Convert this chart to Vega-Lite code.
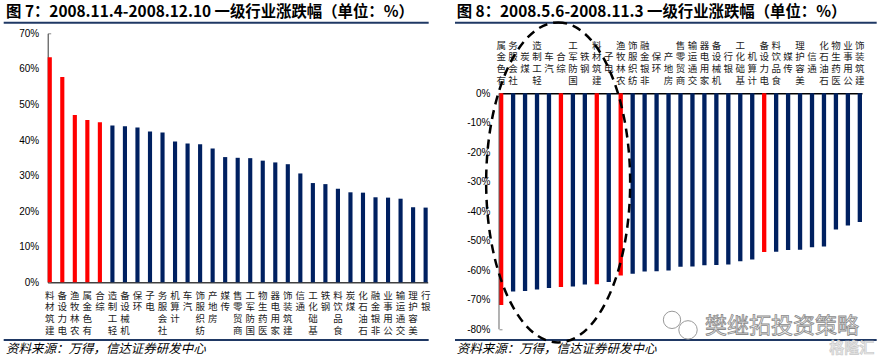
{
  "$schema": "https://vega.github.io/schema/vega-lite/v6.json",
  "background": "white",
  "padding": {"left": 1.7, "top": 4.3, "right": 0, "bottom": 0},
  "spacing": 23.3,
  "config": {"view": {"stroke": null}, "axis": {"grid": false}, "font": "Noto Sans CJK SC"},
  "datasets": {
    "left": [
      {"industry": "建筑材料", "change": 63.3, "group": "top5"},
      {"industry": "电力设备", "change": 57.7, "group": "top5"},
      {"industry": "农林牧渔", "change": 47.0, "group": "top5"},
      {"industry": "有色金属", "change": 45.6, "group": "top5"},
      {"industry": "综合", "change": 45.0, "group": "top5"},
      {"industry": "轻工制造", "change": 44.1, "group": "other"},
      {"industry": "机械设备", "change": 43.9, "group": "other"},
      {"industry": "环保", "change": 43.5, "group": "other"},
      {"industry": "电子", "change": 42.4, "group": "other"},
      {"industry": "社会服务", "change": 42.1, "group": "other"},
      {"industry": "计算机", "change": 39.6, "group": "other"},
      {"industry": "汽车", "change": 39.0, "group": "other"},
      {"industry": "纺织服饰", "change": 38.8, "group": "other"},
      {"industry": "房地产", "change": 37.6, "group": "other"},
      {"industry": "传媒", "change": 35.2, "group": "other"},
      {"industry": "商贸零售", "change": 35.0, "group": "other"},
      {"industry": "国防军工", "change": 34.9, "group": "other"},
      {"industry": "医药生物", "change": 34.2, "group": "other"},
      {"industry": "家用电器", "change": 33.7, "group": "other"},
      {"industry": "建筑装饰", "change": 33.2, "group": "other"},
      {"industry": "通信", "change": 30.6, "group": "other"},
      {"industry": "基础化工", "change": 27.9, "group": "other"},
      {"industry": "钢铁", "change": 27.6, "group": "other"},
      {"industry": "食品饮料", "change": 26.3, "group": "other"},
      {"industry": "煤炭", "change": 25.3, "group": "other"},
      {"industry": "石油石化", "change": 25.2, "group": "other"},
      {"industry": "非银金融", "change": 23.9, "group": "other"},
      {"industry": "公用事业", "change": 23.8, "group": "other"},
      {"industry": "交通运输", "change": 23.5, "group": "other"},
      {"industry": "美容护理", "change": 21.1, "group": "other"},
      {"industry": "银行", "change": 21.0, "group": "other"}
    ],
    "right": [
      {"industry": "有色金属", "change": -71.8, "group": "top5"},
      {"industry": "社会服务", "change": -67.2, "group": "other"},
      {"industry": "煤炭", "change": -67.0, "group": "other"},
      {"industry": "轻工制造", "change": -66.5, "group": "other"},
      {"industry": "汽车", "change": -66.0, "group": "other"},
      {"industry": "综合", "change": -65.7, "group": "top5"},
      {"industry": "国防军工", "change": -65.5, "group": "other"},
      {"industry": "钢铁", "change": -64.8, "group": "other"},
      {"industry": "建筑材料", "change": -64.7, "group": "top5"},
      {"industry": "电子", "change": -64.0, "group": "other"},
      {"industry": "农林牧渔", "change": -61.8, "group": "top5"},
      {"industry": "纺织服饰", "change": -61.2, "group": "other"},
      {"industry": "非银金融", "change": -60.4, "group": "other"},
      {"industry": "环保", "change": -60.3, "group": "other"},
      {"industry": "房地产", "change": -60.1, "group": "other"},
      {"industry": "商贸零售", "change": -58.8, "group": "other"},
      {"industry": "交通运输", "change": -58.7, "group": "other"},
      {"industry": "家用电器", "change": -58.3, "group": "other"},
      {"industry": "机械设备", "change": -58.2, "group": "other"},
      {"industry": "银行", "change": -58.0, "group": "other"},
      {"industry": "基础化工", "change": -56.9, "group": "other"},
      {"industry": "计算机", "change": -56.3, "group": "other"},
      {"industry": "电力设备", "change": -53.8, "group": "top5"},
      {"industry": "食品饮料", "change": -53.7, "group": "other"},
      {"industry": "传媒", "change": -53.1, "group": "other"},
      {"industry": "美容护理", "change": -53.0, "group": "other"},
      {"industry": "通信", "change": -52.2, "group": "other"},
      {"industry": "石油石化", "change": -51.9, "group": "other"},
      {"industry": "医药生物", "change": -46.2, "group": "other"},
      {"industry": "公用事业", "change": -44.8, "group": "other"},
      {"industry": "建筑装饰", "change": -43.6, "group": "other"}
    ]
  },
  "hconcat": [
    {
      "width": 380,
      "height": 249,
      "resolve": {"scale": {"x": "independent", "y": "independent"}},
      "layer": [
        {
          "data": {"name": "left"},
          "mark": {"type": "bar"},
          "encoding": {
            "x": {"field": "industry", "type": "nominal", "sort": null,
              "scale": {"paddingInner": 0.67, "paddingOuter": 0},
              "axis": {"title": null, "orient": "bottom", "labelAngle": 0, "labelAlign": "center", "labelBaseline": "top",
                "labelExpr": "reverse(split(datum.label, ''))", "labelFont": "Noto Sans CJK SC", "labelFontSize": 9.5,
                "labelLineHeight": 11.6, "labelPadding": 8, "labelColor": "#222", "ticks": false, "labelOverlap": false,
                "labelFlush": false, "labelBound": false, "domainColor": "#404040", "domainWidth": 1.5}},
            "y": {"field": "change", "type": "quantitative",
              "scale": {"domain": [0, 70], "nice": false},
              "axis": {"title": null, "values": [0, 10, 20, 30, 40, 50, 60, 70], "labelExpr": "datum.value + '%'",
                "labelFont": "Liberation Sans", "labelFontSize": 10, "labelColor": "#000", "labelPadding": 12,
                "labelOverlap": false, "labelFlush": false, "labelBound": false,
                "tickSize": -3, "tickColor": "#888", "domainColor": "#333", "domainWidth": 1}},
            "color": {"field": "group", "type": "nominal",
              "scale": {"domain": ["top5", "other"], "range": ["#FF0000", "#002060"]}, "legend": null}
          }
        },
        {
          "data": {"values": [{}]},
          "mark": {"type": "text", "text": "图 7：2008.11.4-2008.12.10 一级行业涨跌幅（单位：%）", "align": "left", "baseline": "middle",
            "font": "Noto Sans CJK SC", "fontWeight": "bold", "fontSize": 15.4, "color": "#000"},
          "encoding": {
            "x": {"datum": -0.1097, "type": "quantitative", "scale": {"domain": [0, 1], "nice": false, "zero": false}, "axis": null},
            "y": {"datum": 75.99, "type": "quantitative", "scale": {"domain": [0, 70], "nice": false, "zero": false}, "axis": null}
          }
        },
        {
          "data": {"values": [{}]},
          "mark": {"type": "rule", "color": "#1F3864", "strokeWidth": 2},
          "encoding": {
            "x": {"datum": -0.1158, "type": "quantitative", "scale": {"domain": [0, 1], "nice": false, "zero": false}, "axis": null},
            "x2": {"datum": 1.0026},
            "y": {"datum": 72.98, "type": "quantitative", "scale": {"domain": [0, 70], "nice": false, "zero": false}, "axis": null}
          }
        },
        {
          "data": {"values": [{}]},
          "mark": {"type": "rule", "color": "#1F3864", "strokeWidth": 2},
          "encoding": {
            "x": {"datum": -0.1158, "type": "quantitative", "scale": {"domain": [0, 1], "nice": false, "zero": false}, "axis": null},
            "x2": {"datum": 1.0026},
            "y": {"datum": -16.2, "type": "quantitative", "scale": {"domain": [0, 70], "nice": false, "zero": false}, "axis": null}
          }
        },
        {
          "data": {"values": [{}]},
          "mark": {"type": "text", "text": "资料来源：万得，信达证券研发中心", "align": "left", "baseline": "middle",
            "font": "Noto Sans CJK SC", "fontStyle": "italic", "fontSize": 12.5, "color": "#000"},
          "encoding": {
            "x": {"datum": -0.1097, "type": "quantitative", "scale": {"domain": [0, 1], "nice": false, "zero": false}, "axis": null},
            "y": {"datum": -18.75, "type": "quantitative", "scale": {"domain": [0, 70], "nice": false, "zero": false}, "axis": null}
          }
        }
      ]
    },
    {
      "width": 363,
      "height": 296,
      "resolve": {"scale": {"x": "independent", "y": "independent"}},
      "layer": [
        {
          "data": {"name": "right"},
          "mark": {"type": "bar"},
          "encoding": {
            "x": {"field": "industry", "type": "nominal", "sort": null,
              "scale": {"paddingInner": 0.64, "paddingOuter": 0},
              "axis": {"title": null, "orient": "top", "offset": -60, "labelAngle": 0, "labelAlign": "center", "labelBaseline": "top",
                "labelExpr": "reverse(split(pad(datum.label, 4), ''))", "labelFont": "Noto Sans CJK SC", "labelFontSize": 9.5,
                "labelLineHeight": 11.7, "labelPadding": 53, "labelColor": "#222", "ticks": false, "labelOverlap": false,
                "labelFlush": false, "labelBound": false, "domainColor": "#000", "domainWidth": 1.5}},
            "y": {"field": "change", "type": "quantitative",
              "scale": {"domain": [-80, 20.34], "nice": false},
              "axis": {"title": null, "values": [-80, -70, -60, -50, -40, -30, -20, -10, 0], "labelExpr": "datum.value + '%'",
                "labelFont": "Liberation Sans", "labelFontSize": 10, "labelColor": "#000", "labelPadding": 12,
                "labelOverlap": false, "labelFlush": false, "labelBound": false,
                "tickSize": -3, "tickColor": "#888", "domain": false}},
            "color": {"field": "group", "type": "nominal",
              "scale": {"domain": ["top5", "other"], "range": ["#FF0000", "#002060"]}, "legend": null}
          }
        },
        {
          "data": {"values": [{}]},
          "mark": {"type": "rule", "color": "#666", "strokeWidth": 1},
          "encoding": {
            "x": {"datum": 0, "type": "quantitative", "scale": {"domain": [0, 1], "nice": false, "zero": false}, "axis": null},
            "y": {"datum": -80, "type": "quantitative", "scale": {"domain": [-80, 20.34], "nice": false, "zero": false}, "axis": null},
            "y2": {"datum": 0}
          }
        },
        {
          "data": {"values": [{}]},
          "mark": {"type": "text", "text": "图 8：2008.5.6-2008.11.3 一级行业涨跌幅（单位：%）", "align": "left", "baseline": "middle",
            "font": "Noto Sans CJK SC", "fontWeight": "bold", "fontSize": 15.4, "color": "#000"},
          "encoding": {
            "x": {"datum": -0.1165, "type": "quantitative", "scale": {"domain": [0, 1], "nice": false, "zero": false}, "axis": null},
            "y": {"datum": 27.56, "type": "quantitative", "scale": {"domain": [-80, 20.34], "nice": false, "zero": false}, "axis": null}
          }
        },
        {
          "data": {"values": [{}]},
          "mark": {"type": "rule", "color": "#1F3864", "strokeWidth": 2},
          "encoding": {
            "x": {"datum": -0.1212, "type": "quantitative", "scale": {"domain": [0, 1], "nice": false, "zero": false}, "axis": null},
            "x2": {"datum": 1.0405},
            "y": {"datum": 23.9, "type": "quantitative", "scale": {"domain": [-80, 20.34], "nice": false, "zero": false}, "axis": null}
          }
        },
        {
          "data": {"values": [{}]},
          "mark": {"type": "rule", "color": "#1F3864", "strokeWidth": 2},
          "encoding": {
            "x": {"datum": -0.1212, "type": "quantitative", "scale": {"domain": [0, 1], "nice": false, "zero": false}, "axis": null},
            "x2": {"datum": 1.0405},
            "y": {"datum": -83.6, "type": "quantitative", "scale": {"domain": [-80, 20.34], "nice": false, "zero": false}, "axis": null}
          }
        },
        {
          "data": {"values": [{}]},
          "mark": {"type": "text", "text": "资料来源：万得，信达证券研发中心", "align": "left", "baseline": "middle",
            "font": "Noto Sans CJK SC", "fontStyle": "italic", "fontSize": 12.5, "color": "#000"},
          "encoding": {
            "x": {"datum": -0.1165, "type": "quantitative", "scale": {"domain": [0, 1], "nice": false, "zero": false}, "axis": null},
            "y": {"datum": -86.7, "type": "quantitative", "scale": {"domain": [-80, 20.34], "nice": false, "zero": false}, "axis": null}
          }
        },
        {
          "data": {"values": [{}]},
          "mark": {"type": "point", "shape": "M0,-1A0.45,1 0 1,1 0,1A0.45,1 0 1,1 0,-1Z", "size": 102400, "filled": false,
            "color": "#000", "strokeWidth": 2.5, "strokeDash": [9, 6], "opacity": 1},
          "encoding": {
            "x": {"datum": 0.163, "type": "quantitative", "scale": {"domain": [0, 1], "nice": false, "zero": false}, "axis": null},
            "y": {"datum": -30.2, "type": "quantitative", "scale": {"domain": [-80, 20.34], "nice": false, "zero": false}, "axis": null}
          }
        },
        {
          "data": {"values": [{}]},
          "mark": {"type": "text", "text": "樊继拓投资策略", "align": "left", "baseline": "middle",
            "font": "Noto Sans CJK SC", "fontSize": 22, "fill": "#f4f4f4", "stroke": "#8a8a8a", "strokeWidth": 0.8},
          "encoding": {
            "x": {"datum": 0.5675, "type": "quantitative", "scale": {"domain": [0, 1], "nice": false, "zero": false}, "axis": null},
            "y": {"datum": -78.9, "type": "quantitative", "scale": {"domain": [-80, 20.34], "nice": false, "zero": false}, "axis": null}
          }
        },
        {
          "data": {"values": [{}]},
          "mark": {"type": "point", "shape": "circle", "size": 300, "filled": false, "color": "#999", "strokeWidth": 1, "opacity": 1},
          "encoding": {
            "x": {"datum": 0.4766, "type": "quantitative", "scale": {"domain": [0, 1], "nice": false, "zero": false}, "axis": null},
            "y": {"datum": -76.8, "type": "quantitative", "scale": {"domain": [-80, 20.34], "nice": false, "zero": false}, "axis": null}
          }
        },
        {
          "data": {"values": [{}]},
          "mark": {"type": "point", "shape": "circle", "size": 340, "filled": true, "fill": "white", "stroke": "#999", "strokeWidth": 1, "opacity": 1},
          "encoding": {
            "x": {"datum": 0.5207, "type": "quantitative", "scale": {"domain": [0, 1], "nice": false, "zero": false}, "axis": null},
            "y": {"datum": -80.2, "type": "quantitative", "scale": {"domain": [-80, 20.34], "nice": false, "zero": false}, "axis": null}
          }
        },
        {
          "data": {"values": [{}]},
          "mark": {"type": "text", "text": "格隆汇", "align": "left", "baseline": "middle",
            "font": "Noto Sans CJK SC", "fontWeight": "bold", "fontSize": 15, "fill": "#e6e6e6", "stroke": "#c8c8c8", "strokeWidth": 0.6},
          "encoding": {
            "x": {"datum": 0.91, "type": "quantitative", "scale": {"domain": [0, 1], "nice": false, "zero": false}, "axis": null},
            "y": {"datum": -86.3, "type": "quantitative", "scale": {"domain": [-80, 20.34], "nice": false, "zero": false}, "axis": null}
          }
        }
      ]
    }
  ]
}
